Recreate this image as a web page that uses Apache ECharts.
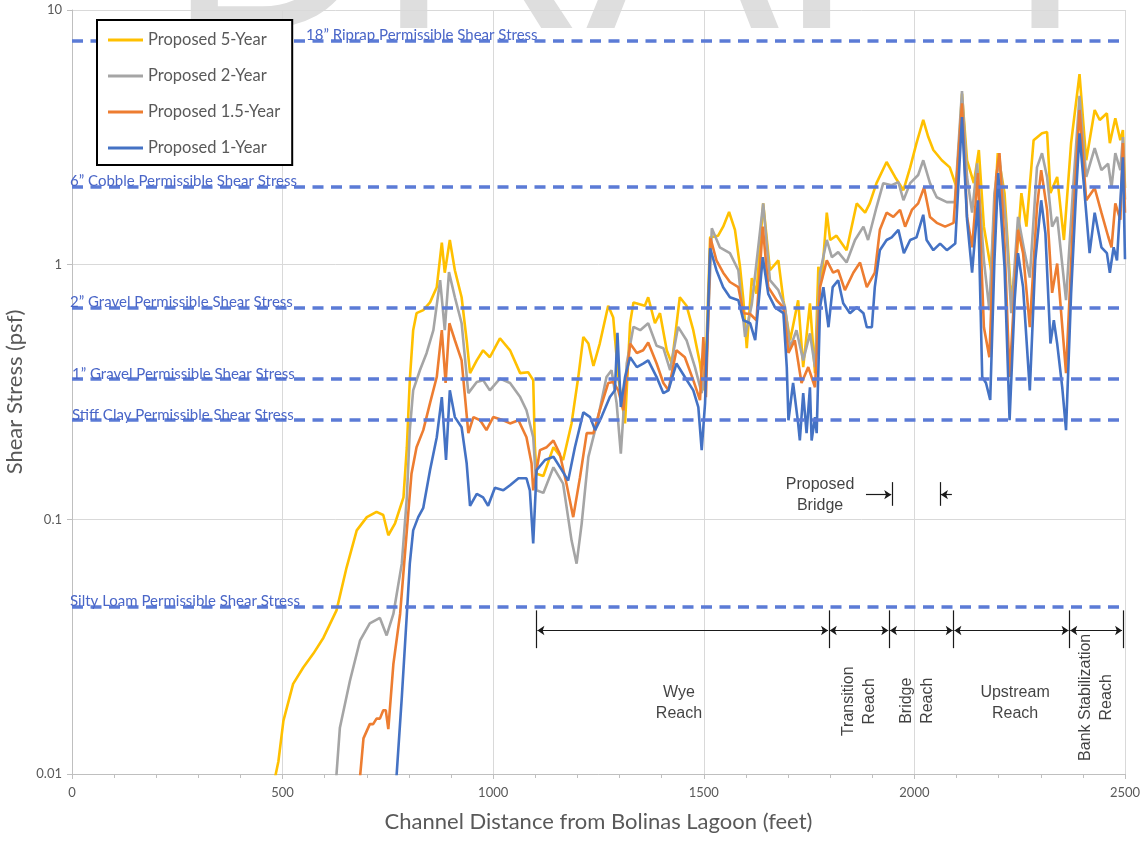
<!DOCTYPE html>
<html><head><meta charset="utf-8">
<script src="https://cdn.jsdelivr.net/npm/echarts/dist/echarts.min.js"></script>
<style>html,body{margin:0;padding:0;background:#fff}#c{width:1143px;height:845px}</style>
</head><body><div id="c"></div><script>
// ---------- DATA (distance ft, shear stress psf) ----------
const seriesNames = ['Proposed 5-Year','Proposed 2-Year','Proposed 1.5-Year','Proposed 1-Year'];
const seriesColors = ['#FFC000','#A5A5A5','#ED7D31','#4472C4'];

const proposed5Year = [[478,0.009],[490,0.0112],[502,0.0162],[525,0.0226],[549,0.0262],[573,0.0297],[597,0.0343],[628,0.0439],[652,0.0648],[676,0.0905],[700,0.102],[723,0.107],[739,0.104],[751,0.0866],[767,0.0965],[787,0.122],[795,0.192],[802,0.352],[810,0.553],[818,0.645],[834,0.663],[850,0.711],[866,0.816],[878,1.22],[885,0.93],[897,1.25],[909,0.951],[925,0.745],[937,0.505],[945,0.375],[961,0.421],[976,0.461],[992,0.433],[1016,0.514],[1040,0.461],[1064,0.375],[1083,0.378],[1095,0.352],[1099,0.192],[1103,0.151],[1119,0.148],[1143,0.192],[1166,0.171],[1186,0.238],[1202,0.362],[1214,0.52],[1226,0.49],[1238,0.40],[1253,0.49],[1273,0.69],[1285,0.62],[1297,0.362],[1313,0.238],[1325,0.589],[1333,0.711],[1360,0.69],[1368,0.745],[1384,0.589],[1396,0.645],[1412,0.461],[1424,0.409],[1443,0.745],[1459,0.69],[1475,0.553],[1491,0.409],[1499,0.321],[1507,0.52],[1515,1.28],[1534,1.30],[1546,1.41],[1560,1.61],[1574,1.37],[1586,0.98],[1594,0.725],[1602,0.47],[1614,0.885],[1625,0.77],[1641,1.74],[1657,0.951],[1677,1.04],[1689,0.725],[1705,0.505],[1724,0.725],[1736,0.396],[1752,0.705],[1764,0.375],[1772,0.98],[1780,0.869],[1792,1.60],[1800,1.25],[1815,1.30],[1839,1.14],[1863,1.74],[1883,1.60],[1894,1.74],[1910,2.09],[1934,2.53],[1954,2.21],[1974,1.96],[1990,2.41],[2005,3.0],[2021,3.70],[2033,3.17],[2045,2.82],[2065,2.57],[2084,2.41],[2100,2.01],[2113,4.7],[2125,2.57],[2141,2.09],[2153,2.82],[2165,1.41],[2182,0.951],[2198,2.74],[2214,1.91],[2230,0.725],[2242,1.04],[2254,1.91],[2266,1.41],[2283,3.08],[2303,3.28],[2315,3.32],[2323,1.91],[2339,2.21],[2355,1.25],[2372,3.0],[2392,5.6],[2408,2.57],[2428,4.05],[2440,3.70],[2457,3.93],[2464,3.0],[2477,3.76],[2489,3.08],[2495,3.38],[2500,2.0]];

const proposed2Year = [[626,0.009],[636,0.0152],[660,0.0233],[684,0.0335],[707,0.039],[731,0.041],[747,0.035],[763,0.0425],[783,0.067],[795,0.122],[802,0.224],[810,0.321],[826,0.385],[842,0.45],[858,0.553],[874,0.869],[885,0.553],[895,0.935],[909,0.745],[925,0.589],[941,0.313],[961,0.346],[976,0.352],[992,0.321],[1016,0.357],[1040,0.343],[1064,0.302],[1079,0.268],[1095,0.21],[1103,0.13],[1119,0.127],[1143,0.16],[1166,0.138],[1186,0.0827],[1198,0.067],[1210,0.096],[1226,0.176],[1246,0.238],[1269,0.362],[1281,0.385],[1293,0.286],[1303,0.181],[1317,0.409],[1333,0.57],[1349,0.553],[1368,0.589],[1388,0.48],[1404,0.47],[1420,0.385],[1439,0.57],[1459,0.505],[1479,0.396],[1495,0.313],[1507,0.433],[1519,1.39],[1538,1.17],[1562,1.11],[1582,0.951],[1598,0.52],[1614,0.70],[1641,1.74],[1657,0.869],[1677,0.794],[1693,0.68],[1705,0.47],[1720,0.553],[1736,0.421],[1752,0.537],[1764,0.396],[1776,0.93],[1792,1.25],[1804,1.07],[1819,1.12],[1839,1.02],[1859,1.25],[1879,1.41],[1890,1.25],[1910,1.68],[1926,2.09],[1946,2.05],[1962,2.11],[1974,1.79],[1990,2.09],[2009,2.25],[2021,2.57],[2037,2.09],[2053,1.84],[2077,1.76],[2096,1.76],[2113,4.8],[2125,2.21],[2137,1.60],[2149,2.5],[2165,1.04],[2178,0.663],[2190,1.91],[2202,2.64],[2218,1.41],[2230,0.645],[2246,1.54],[2262,1.11],[2274,0.89],[2291,2.41],[2303,2.74],[2315,2.21],[2327,1.41],[2339,1.54],[2360,0.725],[2376,1.91],[2392,4.6],[2408,2.21],[2428,2.87],[2444,2.35],[2460,2.49],[2468,2.01],[2477,2.74],[2489,2.35],[2495,3.17],[2500,1.8]];

const proposed15Year = [[682,0.009],[692,0.0138],[707,0.0157],[715,0.0157],[723,0.0165],[731,0.0165],[739,0.0178],[745,0.0178],[751,0.015],[763,0.027],[779,0.0425],[795,0.0905],[806,0.151],[818,0.192],[834,0.224],[850,0.286],[866,0.362],[878,0.553],[887,0.343],[896,0.589],[909,0.505],[925,0.421],[941,0.218],[953,0.252],[969,0.245],[984,0.224],[1000,0.252],[1024,0.245],[1040,0.238],[1060,0.245],[1079,0.21],[1091,0.166],[1095,0.13],[1111,0.187],[1127,0.192],[1143,0.204],[1158,0.181],[1174,0.138],[1190,0.102],[1206,0.146],[1222,0.218],[1238,0.218],[1253,0.268],[1273,0.343],[1285,0.346],[1297,0.321],[1309,0.268],[1325,0.49],[1341,0.45],[1356,0.461],[1368,0.495],[1388,0.409],[1404,0.343],[1416,0.321],[1435,0.461],[1455,0.433],[1475,0.352],[1491,0.294],[1499,0.52],[1505,0.302],[1516,1.27],[1530,1.04],[1546,0.93],[1562,0.855],[1582,0.816],[1594,0.645],[1610,0.64],[1625,0.605],[1640,1.41],[1653,0.816],[1673,0.725],[1689,0.68],[1701,0.45],[1716,0.505],[1732,0.343],[1748,0.396],[1764,0.33],[1776,0.816],[1792,1.04],[1807,0.93],[1819,0.951],[1835,0.794],[1855,0.93],[1871,1.02],[1887,0.816],[1906,0.93],[1918,1.37],[1934,1.60],[1950,1.54],[1966,1.64],[1978,1.41],[1994,1.64],[2009,1.74],[2023,2.01],[2037,1.54],[2053,1.46],[2073,1.41],[2093,1.46],[2113,4.3],[2125,1.54],[2137,1.17],[2151,2.29],[2165,0.568],[2178,0.433],[2194,2.21],[2202,2.74],[2214,1.21],[2226,0.362],[2246,1.37],[2258,1.11],[2274,0.568],[2291,1.68],[2301,2.35],[2315,1.64],[2327,0.775],[2339,1.01],[2360,0.375],[2376,1.41],[2392,4.05],[2408,1.79],[2428,2.0],[2444,1.6],[2460,1.29],[2468,1.17],[2477,1.74],[2489,1.50],[2495,3.0],[2500,1.6]];

const proposed1Year = [[769,0.009],[783,0.02],[795,0.0425],[802,0.067],[810,0.0905],[822,0.102],[834,0.111],[850,0.156],[866,0.21],[878,0.302],[888,0.171],[897,0.321],[909,0.252],[925,0.23],[937,0.166],[945,0.113],[961,0.126],[976,0.122],[988,0.113],[1004,0.133],[1024,0.13],[1040,0.136],[1060,0.145],[1079,0.145],[1087,0.13],[1095,0.0805],[1103,0.156],[1123,0.171],[1143,0.176],[1163,0.156],[1178,0.142],[1194,0.192],[1214,0.263],[1230,0.252],[1242,0.224],[1257,0.252],[1277,0.302],[1289,0.321],[1295,0.54],[1303,0.276],[1313,0.362],[1325,0.433],[1341,0.396],[1356,0.409],[1368,0.421],[1388,0.362],[1404,0.313],[1416,0.321],[1435,0.409],[1455,0.362],[1475,0.321],[1487,0.276],[1495,0.187],[1503,0.286],[1515,1.16],[1530,0.951],[1546,0.816],[1562,0.745],[1582,0.725],[1594,0.605],[1610,0.589],[1622,0.505],[1640,1.07],[1653,0.768],[1669,0.68],[1689,0.645],[1697,0.396],[1701,0.245],[1712,0.343],[1724,0.238],[1728,0.204],[1736,0.313],[1744,0.218],[1752,0.33],[1756,0.204],[1764,0.252],[1768,0.218],[1776,0.68],[1784,0.816],[1796,0.568],[1806,0.816],[1819,0.869],[1831,0.705],[1847,0.645],[1863,0.68],[1879,0.645],[1887,0.568],[1899,0.568],[1906,0.816],[1918,1.14],[1934,1.25],[1946,1.28],[1962,1.37],[1975,1.11],[1990,1.25],[2005,1.28],[2021,1.57],[2029,1.25],[2045,1.14],[2061,1.21],[2077,1.14],[2097,1.21],[2113,3.8],[2125,1.50],[2137,0.93],[2151,1.79],[2161,0.362],[2170,0.343],[2180,0.294],[2190,1.04],[2199,2.29],[2214,0.98],[2226,0.245],[2238,0.725],[2246,1.11],[2258,0.816],[2274,0.321],[2287,1.04],[2301,1.79],[2311,1.33],[2323,0.49],[2331,0.605],[2339,0.49],[2351,0.33],[2360,0.224],[2372,0.768],[2383,1.79],[2392,3.28],[2404,1.91],[2416,1.11],[2428,1.6],[2444,1.17],[2457,1.11],[2464,0.93],[2473,1.17],[2481,1.04],[2495,2.64],[2500,1.05]];

// Permissible shear stress thresholds (psf)
const thresholdNames = ['18\u201D Riprap Permissible Shear Stress','6\u201D Cobble Permissible Shear Stress','2\u201D Gravel Permissible Shear Stress','1\u201D Gravel Permissible Shear Stress','Stiff Clay Permissible Shear Stress','Silty Loam Permissible Shear Stress'];
const thresholdValues = [7.55, 2.03, 0.675, 0.355, 0.245, 0.0455];

// Reach annotations (ft)
const reachBounds = [1103, 1797, 1940, 2093, 2368, 2495];
const reachNames = ['Wye\nReach','Transition\nReach','Bridge\nReach','Upstream\nReach','Bank Stabilization\nReach'];
const reachLabelX = [1441, 1868, 2006, 2239, 2431];
const reachLabelY = [0.0190, 0.0193, 0.0194, 0.0190, 0.0200];
const reachRotate = [0, 90, 90, 0, 90];
const reachArrowLevel = 0.0366;
const reachTickRange = [0.0312, 0.0439];
const bridgeLimits = [1947, 2061];
const bridgeArrowLevel = 0.125;
const bridgeTickRange = [0.113, 0.140];
const bridgeLabel = {name:'Proposed\nBridge', x:1776, y:0.124};

const yTickLabels = ['0.01','0.1','1','10'];

// ---------- CHART ----------
const chart = echarts.init(document.getElementById('c'), null, {renderer:'canvas'});
const TXT = '#595959';
const font = 'Lato';

const lineSeries = [proposed5Year, proposed2Year, proposed15Year, proposed1Year].map((d,i)=>({
  name: seriesNames[i], type:'line', data:d, symbol:'none', showSymbol:false,
  lineStyle:{width:2.6, color:seriesColors[i]}, itemStyle:{color:seriesColors[i]},
  z:3, animation:false, silent:true
}));

const labelPad = [236,0,0,2,2,0];
const thresholdSeries = {
  name:'thresholds', type:'line', data:[], silent:true, z:2,
  markLine:{
    symbol:'none', silent:true, animation:false, precision:6,
    lineStyle:{type:[11,7.5], width:3.5, color:'#5b7bd6', opacity:1},
    label:{show:true, position:'insideStartTop', formatter:'{b}', color:'#4a66c8', fontFamily:font, fontSize:15, distance:-2},
    emphasis:{disabled:true},
    data: thresholdValues.map((v,i)=>({yAxis:v, name:thresholdNames[i], label:{padding:[0,0,0,labelPad[i]]}}))
  }
};

const arrowEnd = (x,y)=>({coord:[x,y], symbol:'arrow', symbolSize:7});
const plainEnd = (x,y)=>({coord:[x,y], symbol:'none'});
const annLines = [];
for (let i=0;i<reachBounds.length-1;i++){
  annLines.push([arrowEnd(reachBounds[i]+2, reachArrowLevel), arrowEnd(reachBounds[i+1]-2, reachArrowLevel)]);
}
reachBounds.forEach(b=>annLines.push([plainEnd(b, reachTickRange[0]), plainEnd(b, reachTickRange[1])]));
annLines.push([plainEnd(bridgeLimits[0]-62, bridgeArrowLevel), arrowEnd(bridgeLimits[0]-2, bridgeArrowLevel)]);
annLines.push([plainEnd(bridgeLimits[1]+28, bridgeArrowLevel), arrowEnd(bridgeLimits[1]+2, bridgeArrowLevel)]);
bridgeLimits.forEach(b=>annLines.push([plainEnd(b, bridgeTickRange[0]), plainEnd(b, bridgeTickRange[1])]));

const annSeries = {
  name:'annotations', type:'line', data:[], silent:true, z:4,
  markLine:{
    silent:true, animation:false, symbol:'none', precision:6,
    lineStyle:{type:'solid', width:1.2, color:'#1a1a1a', opacity:1},
    label:{show:false}, emphasis:{disabled:true},
    data: annLines
  }
};

const labelData = reachNames.map((n,i)=>({value:[reachLabelX[i], reachLabelY[i]], name:n, label:{rotate:reachRotate[i]}}));
labelData.push({value:[bridgeLabel.x, bridgeLabel.y], name:bridgeLabel.name, label:{rotate:0}});
const labelSeries = {
  name:'reachLabels', type:'scatter', symbolSize:0, silent:true, z:5, animation:false,
  data: labelData,
  label:{show:true, position:'inside', formatter:p=>p.name, color:'#111', fontFamily:'Liberation Sans', fontSize:16, lineHeight:21, align:'center', verticalAlign:'middle'}
};

const option = {
  animation:false,
  backgroundColor:'#ffffff',
  graphic:[{type:'text', z:-10, silent:true, x:167, y:-52,
    style:{text:'DRAFT', font:'290px "Liberation Sans"', fill:'#dedede', align:'left', verticalAlign:'middle'}}],
  grid:{left:72, right:18, top:10, bottom:71, containLabel:false, outerBoundsMode:'none'},
  legend:{
    data:seriesNames, orient:'vertical', left:97, top:20, z:50, zlevel:1,
    padding:[11,12,8,11], itemGap:18, itemWidth:35, itemHeight:3, icon:'rect',
    backgroundColor:'#ffffff', borderColor:'#000000', borderWidth:2, borderRadius:0,
    textStyle:{fontFamily:font, fontSize:16.5, color:TXT, lineHeight:18},
    selectedMode:false
  },
  xAxis:{
    type:'value', min:0, max:2500, interval:500,
    axisLine:{show:true, lineStyle:{color:'#bfbfbf'}},
    axisTick:{show:true, length:5, lineStyle:{color:'#bfbfbf'}},
    minorTick:{show:true, splitNumber:5, length:4, lineStyle:{color:'#bfbfbf'}},
    splitLine:{show:true, lineStyle:{color:'#d9d9d9'}},
    axisLabel:{color:TXT, fontFamily:font, fontSize:13, margin:12, formatter:v=>String(v)},
    name:'Channel Distance from Bolinas Lagoon (feet)', nameLocation:'middle', nameGap:37,
    nameTextStyle:{fontFamily:font, fontSize:22, color:TXT}
  },
  yAxis:{
    type:'log', logBase:10, min:0.01, max:10,
    axisLine:{show:true, lineStyle:{color:'#bfbfbf'}},
    axisTick:{show:true, length:5, lineStyle:{color:'#bfbfbf'}},
    splitLine:{show:true, lineStyle:{color:'#d9d9d9'}},
    axisLabel:{color:TXT, fontFamily:font, fontSize:13, margin:10,
      formatter:v=>{const s=String(Number(v.toPrecision(2))); return yTickLabels.includes(s)?s:'';}},
    name:'Shear Stress (psf)', nameLocation:'middle', nameGap:42, nameRotate:90,
    nameTextStyle:{fontFamily:font, fontSize:22, color:TXT}
  },
  series:[thresholdSeries, ...lineSeries, annSeries, labelSeries]
};
chart.setOption(option);
</script></body></html>
